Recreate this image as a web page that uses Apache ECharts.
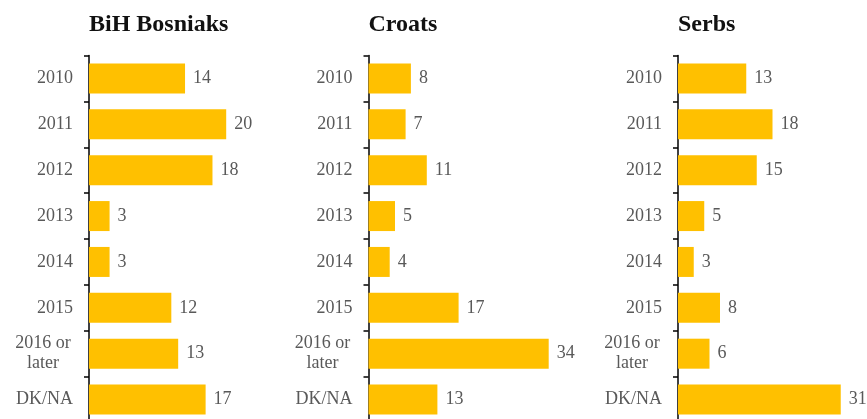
<!DOCTYPE html>
<html>
<head>
<meta charset="utf-8">
<script src="https://cdn.jsdelivr.net/npm/echarts@6/dist/echarts.min.js"></script>
<style>
  html, body { margin: 0; padding: 0; background: #fff; }
  #chart { width: 867px; height: 419px; }
</style>
</head>
<body>
<div id="chart"></div>
<script>
// Year when respondents expect the event, by group (%)
const categories = ['2010', '2011', '2012', '2013', '2014', '2015', '2016 or\nlater', 'DK/NA'];
const groups = ['BiH Bosniaks', 'Croats', 'Serbs'];
const bosniaks = [14, 20, 18, 3, 3, 12, 13, 17];
const croats = [8, 7, 11, 5, 4, 17, 34, 13];
const serbs = [13, 18, 15, 5, 3, 8, 6, 31];

const seriesValues = [bosniaks, croats, serbs];

// Panel geometry: axis x position, value-axis max and pixels per unit
const panels = [
  { left: 89, max: 25, ppu: 6.86 },
  { left: 368.5, max: 40, ppu: 5.3 },
  { left: 678, max: 35, ppu: 5.25 }
];

const FONT = '"Liberation Serif", "Times New Roman", serif';
const GREY = '#595959';
const BAR = '#FFC000';

const option = {
  animation: false,
  backgroundColor: '#fff',
  title: panels.map((p, i) => ({
    text: groups[i],
    left: p.left,
    top: 13,
    padding: 0,
    textStyle: { fontFamily: FONT, fontWeight: 'bold', fontSize: 24, color: '#111' }
  })),
  grid: panels.map(p => ({
    left: p.left,
    top: 55.5,
    width: p.max * p.ppu,
    height: 367,
    containLabel: false,
    outerBoundsMode: 'none'
  })),
  xAxis: panels.map((p, i) => ({
    gridIndex: i,
    type: 'value',
    min: 0,
    max: p.max,
    show: false
  })),
  yAxis: panels.map((p, i) => ({
    gridIndex: i,
    type: 'category',
    data: categories,
    inverse: true,
    axisLine: { show: true, lineStyle: { color: '#000', width: 1.5 } },
    axisTick: { show: true, length: 5, lineStyle: { color: '#000', width: 1.5 } },
    axisLabel: {
      margin: 16,
      fontFamily: FONT,
      fontSize: 18,
      lineHeight: 20,
      color: GREY,
      align: 'right',
      // two-line labels are centred line by line
      formatter: v => (v.indexOf('\n') >= 0 ? '{c|' + v + '}' : v),
      rich: {
        c: { width: 60, align: 'center', fontFamily: FONT, fontSize: 18, lineHeight: 20, color: GREY }
      }
    },
    splitLine: { show: false }
  })),
  series: seriesValues.map((vals, i) => ({
    type: 'bar',
    xAxisIndex: i,
    yAxisIndex: i,
    data: vals,
    barWidth: 30,
    itemStyle: { color: BAR },
    label: {
      show: true,
      position: 'right',
      distance: 8,
      fontFamily: FONT,
      fontSize: 18,
      color: GREY
    }
  }))
};

const chart = echarts.init(document.getElementById('chart'), null, { renderer: 'canvas' });
chart.setOption(option);
</script>
</body>
</html>
